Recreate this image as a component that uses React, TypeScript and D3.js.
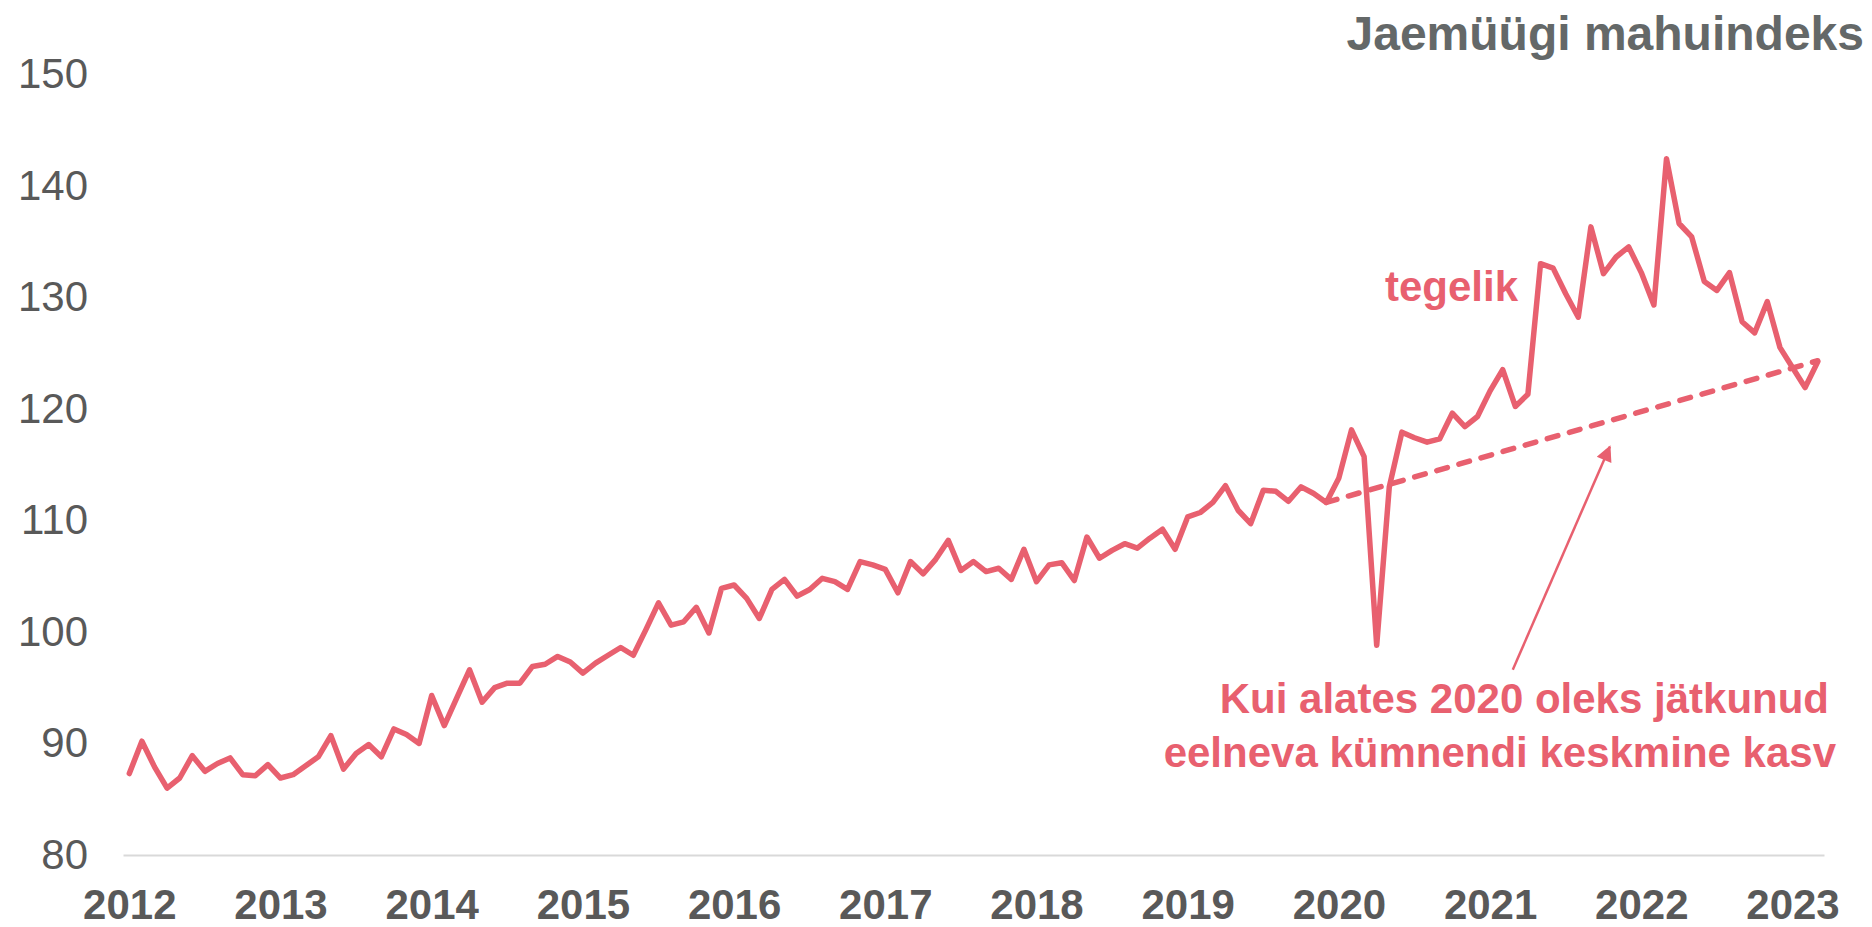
import React, { useEffect, useRef } from 'react'
import * as d3 from 'd3'

// monthly retail volume index, Jan 2012 .. Mar 2023
const retailIndex: number[] = [
  87.3, 90.2, 87.9, 86.0, 86.9, 88.9, 87.5, 88.2, 88.7, 87.2, 87.1, 88.1, // 2012
  86.9, 87.2, 88.0, 88.8, 90.7, 87.7, 89.1, 89.9, 88.8, 91.3, 90.8, 90.0, // 2013
  94.3, 91.6, 94.1, 96.6, 93.7, 95.0, 95.4, 95.4, 96.9, 97.1, 97.8, 97.3, // 2014
  96.3, 97.2, 97.9, 98.6, 97.9, 100.2, 102.6, 100.6, 100.9, 102.2, 99.9, 103.9, // 2015
  104.2, 103.0, 101.2, 103.8, 104.7, 103.2, 103.8, 104.8, 104.5, 103.8, 106.3, 106.0, // 2016
  105.6, 103.5, 106.3, 105.2, 106.5, 108.2, 105.5, 106.3, 105.4, 105.7, 104.7, 107.4, // 2017
  104.5, 106.0, 106.2, 104.6, 108.5, 106.6, 107.3, 107.9, 107.5, 108.4, 109.2, 107.4, // 2018
  110.3, 110.7, 111.6, 113.1, 110.9, 109.7, 112.7, 112.6, 111.7, 113.0, 112.4, 111.6, // 2019
  113.8, 118.1, 115.7, 98.8, 113.0, 117.9, 117.4, 117.0, 117.3, 119.6, 118.4, 119.3, // 2020
  121.6, 123.5, 120.2, 121.3, 133.0, 132.6, 130.3, 128.2, 136.3, 132.1, 133.6, 134.5, // 2021
  132.2, 129.3, 142.4, 136.6, 135.4, 131.4, 130.6, 132.2, 127.8, 126.8, 129.6, 125.5, // 2022
  123.7, 121.9, 124.2 // 2023
]

// counterfactual: pre-2020 average growth continued (month index, value)
const trendMonths = [95, 134]
const trendValues = [111.6, 124.3]

// annotation arrow (month index, value)
const arrowMonths = [109.8, 117.5]
const arrowValues = [96.6, 116.6]

const yTicks = [80, 90, 100, 110, 120, 130, 140, 150]
const yearLabels = ['2012', '2013', '2014', '2015', '2016', '2017', '2018', '2019', '2020', '2021', '2022', '2023']

const title = 'Jaemüügi mahuindeks'
const actualLabel = 'tegelik'
const noteLines = ['Kui alates 2020 oleks jätkunud', 'eelneva kümnendi keskmine kasv']

const pink = '#e8606f'
const grey = '#595959'
const font = '"Liberation Sans", Arial, sans-serif'

export default function App() {
  const ref = useRef<SVGSVGElement>(null)

  useEffect(() => {
    const svg = d3.select(ref.current)
    svg.selectAll('*').remove()

    const x = d3.scaleLinear().domain([-0.5, retailIndex.length - 0.5]).range([123, 1824])
    const y = d3.scaleLinear().domain([80, 150]).range([855, 74])

    svg.append('defs').append('marker')
      .attr('id', 'arrowhead')
      .attr('viewBox', '0 0 10 10')
      .attr('refX', 9).attr('refY', 5)
      .attr('markerUnits', 'userSpaceOnUse')
      .attr('markerWidth', 20).attr('markerHeight', 16)
      .attr('orient', 'auto')
      .append('path').attr('d', 'M0,0 L10,5 L0,10 z').attr('fill', pink)

    // x axis
    const xAxis = svg.append('g').attr('transform', `translate(0,${y(80)})`)
      .call(d3.axisBottom(x)
        .tickValues(yearLabels.map((_, i) => i * 12))
        .tickFormat((_, i) => yearLabels[i])
        .tickSize(0).tickSizeOuter(0).tickPadding(34))
    xAxis.select('.domain').attr('stroke', '#d9d9d9').attr('stroke-width', 2)
    xAxis.selectAll('text')
      .style('font-family', font).style('font-size', '42px').style('font-weight', 'bold')
      .attr('fill', grey)

    // y axis
    const yAxis = svg.append('g').attr('transform', 'translate(88,0)')
      .call(d3.axisLeft(y).tickValues(yTicks).tickSize(0).tickPadding(0))
    yAxis.select('.domain').remove()
    yAxis.selectAll('text')
      .style('font-family', font).style('font-size', '42px')
      .attr('fill', grey)

    // trend
    const pts = trendMonths.map((m, i) => [m, trendValues[i]] as [number, number])
    svg.append('path')
      .attr('d', d3.line().x(d => x(d[0])).y(d => y(d[1]))(pts))
      .attr('fill', 'none').attr('stroke', pink).attr('stroke-width', 5.5)
      .attr('stroke-linecap', 'round').attr('stroke-dasharray', '11 12')

    // actual
    svg.append('path')
      .attr('d', d3.line<number>().x((_, i) => x(i)).y(d => y(d))(retailIndex))
      .attr('fill', 'none').attr('stroke', pink).attr('stroke-width', 5.5)
      .attr('stroke-linejoin', 'round').attr('stroke-linecap', 'round')

    // arrow
    svg.append('line')
      .attr('x1', x(arrowMonths[0])).attr('y1', y(arrowValues[0]))
      .attr('x2', x(arrowMonths[1])).attr('y2', y(arrowValues[1]))
      .attr('stroke', pink).attr('stroke-width', 2.5)
      .attr('marker-end', 'url(#arrowhead)')

    // texts
    svg.append('text')
      .attr('x', 1864).attr('y', 50).attr('text-anchor', 'end')
      .style('font-family', font).style('font-size', '48px').style('font-weight', 'bold')
      .attr('fill', '#646868').text(title)

    svg.append('text')
      .attr('x', 1385).attr('y', 301)
      .style('font-family', font).style('font-size', '42px').style('font-weight', 'bold')
      .attr('fill', pink).text(actualLabel)

    const noteRight = [1829, 1836]
    svg.append('g').selectAll('text').data(noteLines).join('text')
      .attr('x', (_, i) => noteRight[i]).attr('y', (_, i) => 713 + i * 54).attr('text-anchor', 'end')
      .style('font-family', font).style('font-size', '42px').style('font-weight', 'bold')
      .attr('fill', pink).text(d => d)
  })

  return (
    <svg ref={ref} width={1872} height={927}
      style={{ position: 'absolute', left: 0, top: 0, background: '#fff' }} />
  )
}
